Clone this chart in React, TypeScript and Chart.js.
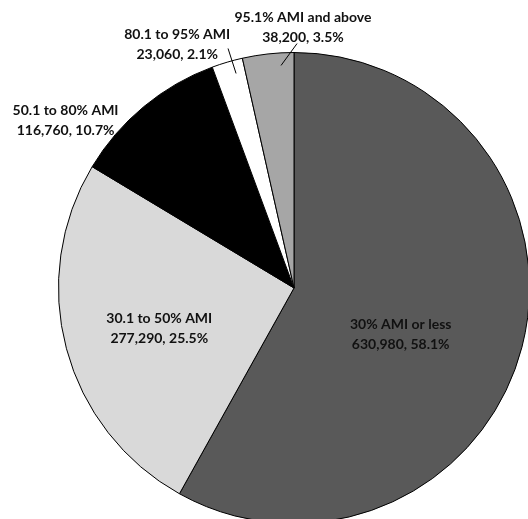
import React, { useEffect, useRef } from "react";
import { Chart, registerables } from "chart.js";

Chart.register(...registerables);

const categories = [
  "30% AMI or less",
  "30.1 to 50% AMI",
  "50.1 to 80% AMI",
  "80.1 to 95% AMI",
  "95.1% AMI and above",
];
const households = [630980, 277290, 116760, 23060, 38200];
const percentLabels = ["58.1%", "25.5%", "10.7%", "2.1%", "3.5%"];
const valueLabels = ["630,980", "277,290", "116,760", "23,060", "38,200"];
const sliceColors = ["#595959", "#d9d9d9", "#000000", "#ffffff", "#a6a6a6"];

// label centre offsets as fractions of the pie radius from its centre
const labelOffsets = [
  [0.453, 0.199],
  [-0.572, 0.174],
  [-0.97, -0.712],
  [-0.496, -1.036],
  [0.038, -1.108],
];
// leader lines (fractions of radius), null where none
const leaders: (number[] | null)[] = [
  null,
  null,
  null,
  [-0.28, -1.017, -0.246, -0.911],
  [0.013, -1.038, -0.055, -0.945],
];

const labelPlugin = {
  id: "pieLabels",
  afterDraw(chart: any) {
    const meta = chart.getDatasetMeta(0);
    const arc = meta.data[0];
    if (!arc) return;
    const cx = arc.x;
    const cy = arc.y;
    const r = arc.outerRadius;
    const ctx = chart.ctx;
    ctx.save();
    ctx.font = "bold 14px Lato, 'Liberation Sans', sans-serif";
    ctx.fillStyle = "#111111";
    ctx.textAlign = "center";
    ctx.textBaseline = "middle";
    categories.forEach((c, i) => {
      const [fx, fy] = labelOffsets[i];
      const x = cx + fx * r;
      const y = cy + fy * r;
      ctx.fillText(c, x, y - 10);
      ctx.fillText(valueLabels[i] + ", " + percentLabels[i], x, y + 10);
      const l = leaders[i];
      if (l) {
        ctx.beginPath();
        ctx.strokeStyle = "#000";
        ctx.lineWidth = 1;
        ctx.moveTo(cx + l[0] * r, cy + l[1] * r);
        ctx.lineTo(cx + l[2] * r, cy + l[3] * r);
        ctx.stroke();
      }
    });
    ctx.restore();
  },
};

export default function App() {
  const ref = useRef<HTMLCanvasElement | null>(null);
  useEffect(() => {
    if (!ref.current) return;
    const chart = new Chart(ref.current, {
      type: "pie",
      data: {
        labels: categories,
        datasets: [
          {
            data: households,
            backgroundColor: sliceColors,
            borderColor: "#000000",
            borderWidth: 1,
          },
        ],
      },
      options: {
        responsive: false,
        animation: false,
        layout: { padding: { left: 58, top: 52, right: 70, bottom: 76 } },
        plugins: {
          legend: { display: false },
          tooltip: { enabled: false },
        },
      },
      plugins: [labelPlugin],
    });
    return () => chart.destroy();
  }, []);
  return (
    <div
      style={{
        position: "fixed",
        left: 0,
        top: 0,
        width: 528,
        height: 519,
        overflow: "hidden",
        background: "#fff",
      }}
    >
      <canvas ref={ref} width={600} height={600} style={{ width: 600, height: 600 }} />
    </div>
  );
}
